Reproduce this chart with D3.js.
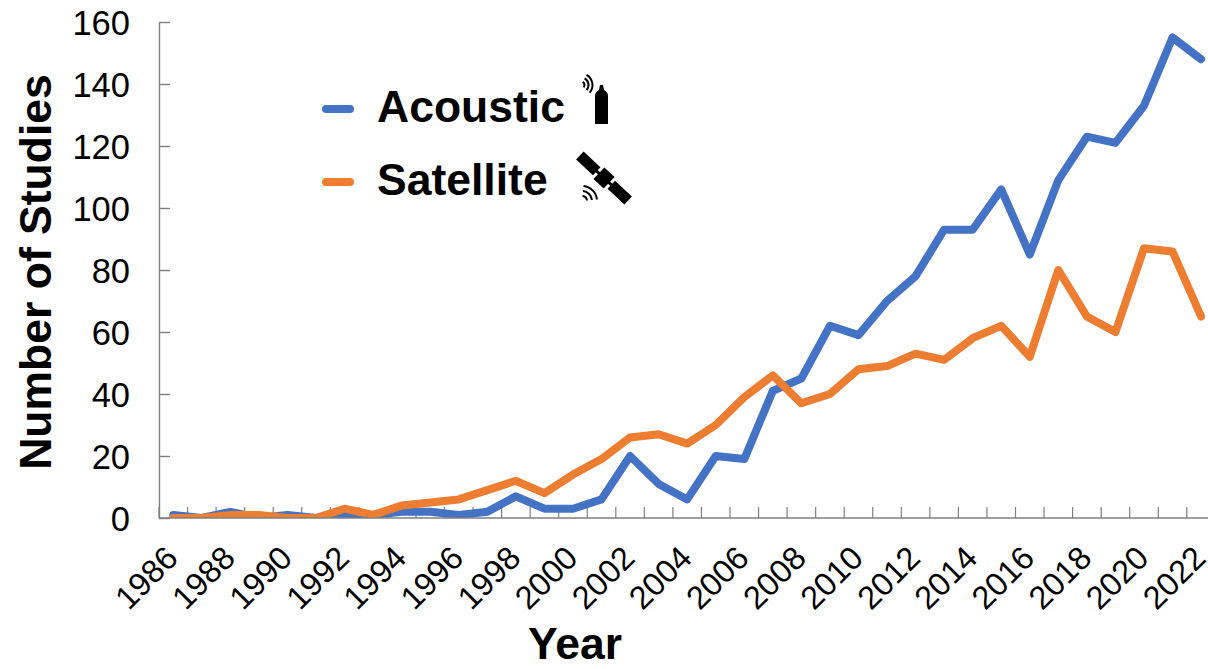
<!DOCTYPE html>
<html><head><meta charset="utf-8">
<script src="https://cdn.jsdelivr.net/npm/d3@7/dist/d3.min.js"></script>
<style>html,body{margin:0;padding:0;background:#fff;overflow:hidden}svg{display:block}text{font-family:"Liberation Sans",Arial,sans-serif;fill:#000}</style>
</head><body><svg id="c" width="1208" height="669"></svg>
<script>
const years = d3.range(1986, 2023);
const acoustic = [1,0,2,0,1,0,1,1,2,2,1,2,7,3,3,6,20,11,6,20,19,41,45,62,59,70,78,93,93,106,85,109,123,121,133,155,148];
const satellite = [0,0,1,1,0,0,3,1,4,5,6,9,12,8,14,19,26,27,24,30,39,46,37,40,48,49,53,51,58,62,52,80,65,60,87,86,65];
const yTicks = [0,20,40,60,80,100,120,140,160];
const seriesNames = ["Acoustic","Satellite"];
const seriesColors = ["#4472c4","#ed7d31"];

const svg = d3.select("#c");
const plotLeft = 159, plotBottom = 518, plotTop = 22, bandW = 28.55;
const x = d3.scaleBand().domain(years).range([plotLeft, plotLeft + bandW * years.length]).padding(0);
const y = d3.scaleLinear().domain([0,160]).range([plotBottom, plotTop]);

svg.append("defs").append("clipPath").attr("id","plot").append("rect")
  .attr("x",plotLeft).attr("y",0).attr("width",1208-plotLeft).attr("height",plotBottom);

// y axis
const gy = svg.append("g").attr("transform",`translate(${plotLeft},0)`)
  .call(d3.axisLeft(y).tickValues(yTicks).tickSize(-11).tickSizeOuter(0));
gy.selectAll("line,path").attr("stroke","#7f7f7f").attr("stroke-width",1.4);
gy.selectAll("text").style("font-size","34.5px").attr("dy","0.35em").attr("x",-29);

// x axis ticks and labels
const xg = svg.append("g").attr("transform",`translate(0,${plotBottom})`);
xg.selectAll(".t").data(years).join("line").attr("class","t")
  .attr("x1",d=>x(d)).attr("x2",d=>x(d))
  .attr("y1",0).attr("y2",-11).attr("stroke","#7f7f7f").attr("stroke-width",1.2);
xg.selectAll(".l").data(years.filter(d=>d%2===0)).join("text").attr("class","l")
  .attr("text-anchor","end").style("font-size","32.5px")
  .attr("transform",d=>`translate(${x(d)+x.bandwidth()/2-10},25.5) rotate(-45)`)
  .attr("dy","0.72em").text(d=>d);

// lines
const line = d3.line().x((d,i)=>x(years[i])+x.bandwidth()/2).y(d=>y(d)).curve(d3.curveLinear);
const lines = svg.append("g").attr("clip-path","url(#plot)");
[acoustic,satellite].forEach((s,i)=>{
  lines.append("path").datum(s).attr("d",line).attr("fill","none").attr("stroke",seriesColors[i])
    .attr("stroke-width",8).attr("stroke-linejoin","round").attr("stroke-linecap","round");
});

// axis baseline on top of the lines
svg.append("line").attr("x1",plotLeft).attr("x2",1208).attr("y1",plotBottom).attr("y2",plotBottom)
  .attr("stroke","#7f7f7f").attr("stroke-width",1.6);

// axis titles
svg.append("text").attr("x",575).attr("y",659).attr("text-anchor","middle")
  .style("font-size","44.5px").style("font-weight","bold").text("Year");
svg.append("text").attr("transform","translate(51,272) rotate(-90)").attr("text-anchor","middle")
  .style("font-size","44.5px").style("font-weight","bold").text("Number of Studies");

// legend
seriesNames.forEach((n,i)=>{
  svg.append("line").attr("x1",326).attr("x2",350).attr("y1",[109,182][i]).attr("y2",[109,182][i])
    .attr("stroke",seriesColors[i]).attr("stroke-width",8).attr("stroke-linecap","round");
  svg.append("text").attr("x",377).attr("y",[122,195][i])
    .style("font-size","44.5px").style("font-weight","bold").text(n);
});

// acoustic tag icon
const ic = svg.append("g");
ic.append("path").attr("fill","#000")
  .attr("d","M595 124 L595 96 Q595 92 599 90 L600 85 L603 85 L604 90 Q608 92 608 96 L608 124 Z");
[3.5,7.5,11.5].forEach(r=>{
  const a=d3.arc().innerRadius(r-1).outerRadius(r+1).startAngle(0.5).endAngle(2.3);
  ic.append("path").attr("transform","translate(581,85)").attr("d",a()).attr("fill","#000");
});
// satellite icon
const si = svg.append("g");
si.append("g").attr("transform","translate(604,178) rotate(43)").call(g=>{
  g.append("rect").attr("x",-33).attr("y",-5.5).attr("width",23).attr("height",11).attr("fill","#000");
  g.append("rect").attr("x",-11).attr("y",-1.5).attr("width",5).attr("height",3).attr("fill","#000");
  g.append("rect").attr("x",-7).attr("y",-8).attr("width",14).attr("height",16).attr("fill","#000");
  g.append("rect").attr("x",6).attr("y",-1.5).attr("width",5).attr("height",3).attr("fill","#000");
  g.append("rect").attr("x",10).attr("y",-5.5).attr("width",23).attr("height",11).attr("fill","#000");
});
[5,10,15].forEach(r=>{
  const a=d3.arc().innerRadius(r-1).outerRadius(r+1).startAngle(0.1).endAngle(1.47);
  si.append("path").attr("transform","translate(582,201)").attr("d",a()).attr("fill","#000");
});
</script></body></html>
